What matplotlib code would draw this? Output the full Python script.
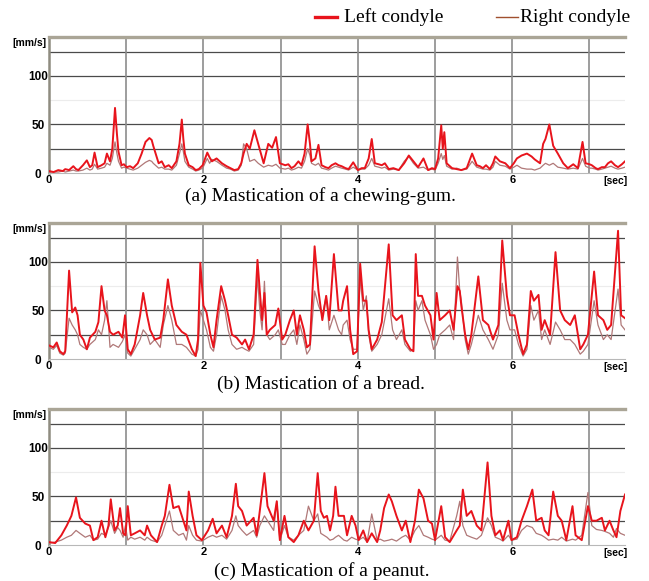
import matplotlib
matplotlib.use('Agg')
import matplotlib.pyplot as plt
from matplotlib.lines import Line2D

# ---------------- data ----------------
gum_t = [0.00,0.06,0.12,0.18,0.21,0.26,0.315,0.35,0.38,0.44,
         0.49,0.53,0.56,0.59,0.63,0.68,0.72,0.75,0.79,0.82,
         0.855,0.88,0.90,0.94,0.97,1.006,1.05,1.09,1.15,1.20,
         1.25,1.30,1.33,1.35,1.42,1.46,1.50,1.55,1.59,1.65,
         1.69,1.72,1.74,1.76,1.81,1.86,1.90,1.94,1.99,2.05,
         2.08,2.11,2.17,2.24,2.30,2.35,2.40,2.45,2.49,2.52,
         2.56,2.60,2.66,2.71,2.78,2.84,2.89,2.94,2.99,3.06,
         3.10,3.14,3.18,3.23,3.27,3.31,3.35,3.38,3.40,3.45,
         3.49,3.53,3.58,3.62,3.66,3.71,3.75,3.79,3.84,3.88,
         3.94,4.00,4.05,4.09,4.14,4.18,4.22,4.27,4.31,4.35,
         4.40,4.46,4.53,4.60,4.66,4.72,4.78,4.85,4.91,4.96,
         5.00,5.04,5.08,5.10,5.12,5.15,5.22,5.28,5.34,5.41,
         5.48,5.54,5.58,5.62,5.66,5.71,5.75,5.78,5.84,5.91,
         5.97,6.02,6.06,6.12,6.19,6.25,6.29,6.36,6.40,6.43,
         6.48,6.53,6.59,6.66,6.72,6.79,6.85,6.91,6.95,7.00,
         7.03,7.08,7.11,7.16,7.20,7.24,7.28,7.33,7.37,7.42,7.46]
gum_left = [2,1,3,2,4,3,7,4,3,8,
            13,6,8,21,6,8,10,20,12,25,
            67,40,22,8,9,6,7,5,10,20,
            32,36,34,28,10,12,6,8,5,12,
            30,55,35,20,8,6,3,4,8,21,
            16,12,15,10,7,5,3,4,10,20,
            30,25,44,30,10,30,26,37,10,8,
            9,5,7,12,8,20,50,30,12,15,
            29,8,6,5,8,10,8,7,5,4,
            11,3,5,5,15,35,10,9,8,10,
            4,5,3,10,18,12,6,15,3,5,
            4,15,49,25,42,10,5,4,3,5,
            20,8,7,5,8,4,10,17,12,10,
            5,10,15,18,20,17,14,10,30,35,
            50,28,20,10,5,9,5,32,10,9,
            8,5,4,6,6,10,12,8,6,9,12]
gum_right = [1,1,1,2,1,2,3,2,2,3,
             5,3,4,9,4,5,6,10,8,15,
             32,20,12,5,6,5,4,3,5,8,
             11,13,12,10,5,6,4,4,3,8,
             20,30,22,12,6,4,2,3,5,15,
             10,14,12,8,5,4,2,3,8,30,
             25,12,14,10,6,8,7,9,5,4,
             5,3,4,6,5,12,25,18,10,8,
             10,5,4,3,5,7,6,5,4,3,
             6,3,4,4,8,15,7,6,5,6,
             3,4,3,12,17,10,5,6,3,4,
             3,10,20,14,18,7,4,5,3,4,
             12,6,5,4,4,3,6,12,8,7,
             4,6,8,5,4,4,3,5,8,10,
             8,10,6,5,4,5,4,15,7,5,
             5,4,3,4,5,6,7,5,4,5,6]

bread_t = [0.0,0.056,0.10,0.14,0.186,0.21,0.26,0.30,0.34,0.37,
           0.40,0.445,0.49,0.53,0.60,0.64,0.68,0.72,0.75,0.79,
           0.83,0.90,0.95,0.985,1.02,1.06,1.11,1.18,1.22,1.27,
           1.31,1.37,1.44,1.48,1.54,1.59,1.65,1.72,1.78,1.85,
           1.90,1.93,1.96,2.00,2.04,2.09,2.13,2.17,2.23,2.28,
           2.32,2.37,2.43,2.50,2.54,2.59,2.65,2.70,2.73,2.76,
           2.79,2.82,2.86,2.93,2.97,3.02,3.06,3.12,3.17,3.21,
           3.25,3.30,3.34,3.38,3.44,3.49,3.54,3.59,3.63,3.69,
           3.75,3.79,3.81,3.86,3.90,3.94,3.99,4.03,4.07,4.11,
           4.14,4.18,4.25,4.31,4.40,4.45,4.50,4.57,4.61,4.68,
           4.72,4.75,4.78,4.83,4.87,4.94,4.98,5.02,5.06,5.13,
           5.19,5.24,5.29,5.32,5.34,5.39,5.43,5.47,5.56,5.62,
           5.69,5.75,5.82,5.87,5.93,5.97,6.03,6.08,6.14,6.19,
           6.24,6.28,6.34,6.38,6.42,6.49,6.56,6.62,6.68,6.75,
           6.81,6.88,6.92,6.98,7.06,7.11,7.18,7.23,7.28,7.37,7.41,7.46]
bread_left = [14,12,17,8,5,8,91,48,53,45,
              25,20,10,22,28,38,75,50,45,28,
              25,28,22,45,10,5,15,45,68,45,
              30,20,22,40,82,55,35,28,25,10,
              3,20,99,55,48,25,12,40,75,60,
              45,25,22,15,20,10,25,102,70,40,
              68,25,30,35,52,20,25,40,50,25,
              45,30,12,15,116,70,40,65,40,108,
              50,50,60,75,30,5,8,98,60,60,
              30,10,20,38,118,45,40,45,20,10,
              8,108,65,65,55,45,20,68,40,45,
              50,30,75,70,55,25,10,25,85,40,
              35,20,35,122,65,45,45,25,5,15,
              70,60,66,30,40,25,110,50,40,35,
              45,10,15,25,90,45,40,30,35,132,45,42]
bread_right = [12,10,14,6,4,6,42,35,30,25,
               15,12,10,15,20,30,25,40,60,12,
               15,12,18,25,6,3,10,20,30,25,
               15,20,12,35,55,40,15,15,12,5,
               3,10,50,40,30,12,8,25,65,50,
               30,15,10,12,10,8,15,85,50,30,
               80,25,20,25,30,15,15,25,30,15,
               35,20,5,10,70,55,45,65,30,45,
               30,25,35,40,20,10,10,85,50,65,
               25,8,15,25,62,30,20,30,15,8,
               10,60,50,60,40,25,10,15,25,30,
               35,20,105,70,60,20,5,15,45,30,
               20,10,25,78,40,30,30,15,3,10,
               55,40,50,20,30,15,38,30,20,20,
               15,5,8,15,60,35,20,25,20,72,35,30]

peanut_t = [0.0,0.08,0.16,0.23,0.29,0.35,0.40,0.47,0.53,0.575,
            0.63,0.68,0.73,0.77,0.80,0.85,0.89,0.92,0.96,0.99,
            1.02,1.06,1.11,1.18,1.24,1.27,1.32,1.40,1.46,1.50,
            1.56,1.61,1.68,1.74,1.78,1.81,1.86,1.91,1.98,2.02,
            2.06,2.12,2.17,2.24,2.30,2.37,2.42,2.45,2.50,2.56,
            2.65,2.69,2.73,2.79,2.83,2.91,2.95,2.99,3.05,3.10,
            3.17,3.23,3.30,3.36,3.43,3.48,3.52,3.56,3.60,3.64,
            3.68,3.71,3.75,3.82,3.86,3.92,3.97,4.01,4.07,4.12,
            4.18,4.25,4.29,4.34,4.40,4.44,4.50,4.57,4.62,4.68,
            4.74,4.79,4.85,4.91,4.96,5.00,5.08,5.13,5.19,5.28,
            5.32,5.36,5.41,5.47,5.54,5.60,5.68,5.73,5.78,5.84,
            5.88,5.95,5.99,6.06,6.12,6.19,6.26,6.31,6.38,6.42,
            6.47,6.53,6.59,6.64,6.70,6.78,6.82,6.90,6.98,7.03,
            7.09,7.16,7.20,7.26,7.31,7.35,7.40,7.46]
peanut_left = [3,2,10,20,30,49,28,22,20,5,
               8,25,8,20,47,15,20,38,12,10,
               40,10,12,15,10,20,10,3,20,30,
               62,38,40,25,15,55,30,10,5,10,
               15,27,12,20,8,30,63,40,35,20,
               28,10,35,74,40,25,45,5,30,8,
               3,10,25,15,25,74,35,28,30,15,
               30,60,30,30,10,30,20,5,15,3,
               12,3,15,38,52,45,30,15,25,3,
               25,57,48,25,22,5,40,8,3,15,
               20,57,30,35,20,15,85,30,10,15,
               5,25,5,8,25,40,57,25,28,15,
               10,55,30,25,5,40,10,5,40,25,
               25,28,15,25,15,8,35,52]
peanut_right = [2,3,5,8,10,15,12,8,10,5,
                6,12,10,18,25,12,18,15,8,20,
                5,8,6,8,5,8,5,3,10,20,
                35,15,10,12,5,20,10,5,4,6,
                8,10,8,10,6,15,30,20,15,10,
                15,8,20,30,25,15,45,5,20,8,
                5,10,15,40,25,32,12,10,8,5,
                6,8,10,5,4,8,6,5,8,3,
                32,5,6,4,5,6,4,8,10,5,
                15,20,10,8,6,5,10,5,4,30,
                45,20,10,8,6,10,28,20,8,6,
                4,10,5,6,15,20,18,12,10,8,
                5,6,5,8,4,6,5,10,54,20,
                16,15,14,12,8,17,12,10]

panels = [
    (gum_t, gum_left, gum_right, "(a) Mastication of a chewing-gum."),
    (bread_t, bread_left, bread_right, "(b) Mastication of a bread."),
    (peanut_t, peanut_left, peanut_right, "(c) Mastication of a peanut."),
]
y_ticks = [0, 50, 100]
x_ticks = [0, 2, 4, 6]
h_grid = [25, 50, 100, 125]
v_grid = [1, 2, 3, 4, 5, 6, 7]

# ---------------- layout ----------------
W, H = 649, 581
fig = plt.figure(figsize=(W / 100, H / 100), dpi=100)
tops = [37, 223, 409]
bottoms = [173, 359, 545]
cap_base = [201, 389, 576]
cap_x = [320, 321, 322]

LEFT_C = '#e8141c'
RIGHT_C = '#b07878'
SANS = 'Liberation Sans'
SERIF = 'Liberation Serif'

for i, (t, lv, rv, cap) in enumerate(panels):
    ax = fig.add_axes([49 / W, 1 - bottoms[i] / H, (625 - 49) / W,
                       (bottoms[i] - tops[i]) / H])
    ax.set_xlim(0, 7.46)
    ax.set_ylim(0, 140)
    ax.axhline(75, color='#ececec', lw=0.8, zorder=1)
    for g in h_grid:
        ax.axhline(g, color='#4a4a4a', lw=0.9, zorder=1)
    for g in v_grid:
        ax.axvline(g, color='#8c8c8c', lw=1.2, zorder=1)
    ax.plot(t, rv, color=RIGHT_C, lw=0.9, zorder=3)
    ax.plot(t, lv, color=LEFT_C, lw=1.4, zorder=4)

    ax.spines['right'].set_visible(False)
    ax.spines['top'].set_color('#aaa596')
    ax.spines['top'].set_linewidth(2.4)
    ax.spines['left'].set_color('#8f8c80')
    ax.spines['left'].set_linewidth(1.8)
    ax.spines['bottom'].set_color('#b8b8b8')
    ax.spines['bottom'].set_linewidth(0.8)

    ax.set_yticks(y_ticks)
    ax.set_yticklabels([str(v) for v in y_ticks], fontsize=8.5,
                       fontweight='bold', family=SANS, ha='center')
    ax.set_xticks(x_ticks)
    ax.set_xticklabels([str(v) for v in x_ticks], fontsize=8,
                       fontweight='bold', family=SANS)
    ax.tick_params(axis='y', length=0, pad=8)
    ax.tick_params(axis='x', length=0, pad=1.5)

    ax.text(-0.004, 1 - 6 / 136, '[mm/s]', transform=ax.transAxes,
            ha='right', va='center', fontsize=7.5, fontweight='bold',
            family=SANS)
    ax.text(1.005, -0.02, '[sec]', transform=ax.transAxes,
            ha='right', va='top', fontsize=7.5, fontweight='bold',
            family=SANS)

    fig.text(cap_x[i] / W, 1 - cap_base[i] / H, cap, ha='center',
             va='baseline', fontsize=14, family=SERIF)

# ---------------- legend ----------------
ly = 1 - 17 / H
fig.add_artist(Line2D([315 / W, 337 / W], [ly, ly], color=LEFT_C, lw=2.4,
                      transform=fig.transFigure))
fig.text(344 / W, ly, 'Left condyle', ha='left', va='center',
         fontsize=14, family=SERIF)
fig.add_artist(Line2D([496 / W, 518 / W], [ly, ly], color='#a0502e', lw=1.0,
                      transform=fig.transFigure))
fig.text(520 / W, ly, 'Right condyle', ha='left', va='center',
         fontsize=14, family=SERIF)

fig.savefig('out.png', dpi=100)
